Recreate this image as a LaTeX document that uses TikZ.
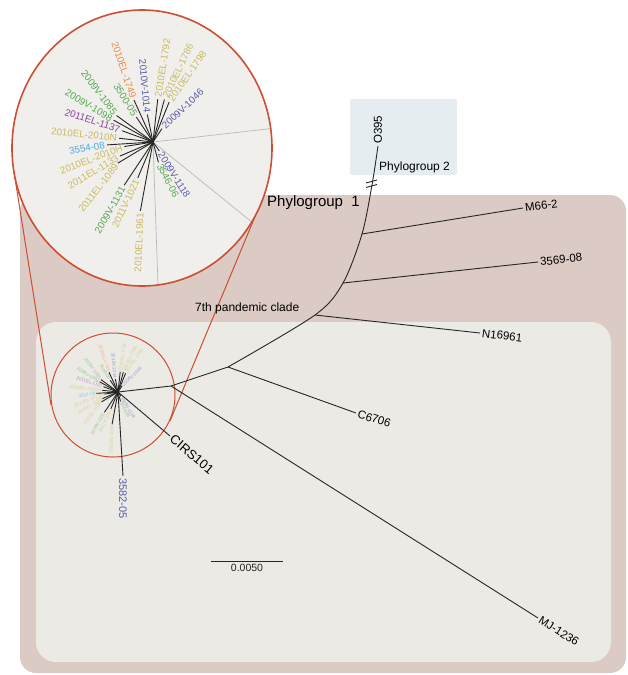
\documentclass[tikz,border=0pt]{standalone}
\usepackage{fontspec}
\setmainfont{Liberation Sans}
\usetikzlibrary{calc}

\definecolor{grouponebg}{RGB}{220,202,196}
\definecolor{pandemicbg}{RGB}{236,234,229}
\definecolor{grouptwobg}{RGB}{229,237,240}
\definecolor{zoombg}{RGB}{241,239,236}
\definecolor{zoomred}{RGB}{204,78,52}
\definecolor{labkhaki}{RGB}{201,186,96}
\definecolor{labgreen}{RGB}{82,168,84}
\definecolor{labblue}{RGB}{88,92,172}
\definecolor{labpurple}{RGB}{138,64,160}
\definecolor{laborange}{RGB}{240,138,62}
\definecolor{labcyan}{RGB}{72,170,226}

\tikzset{
  branch/.style={line width=0.9pt, black!85},
  leaflabel/.style={font=\fontsize{9.8}{12}\selectfont, inner sep=2pt},
  tiplabel/.style={font=\fontsize{11.5}{13}\selectfont, inner sep=2pt},
  zoomline/.style={draw=zoomred, line width=1pt},
}

% leaves of the 7th pandemic clade, drawn round the origin
\newcommand{\drawclade}[1]{%
  \foreach \ang/\len/\rot/\txt/\col [count=\n] in {114.4/46/-71.6/2010EL-1749/laborange,
      101.7/28/-84.9/2010V-1014/labblue, 123.7/30/-58/3500-05/labgreen,
      144/45/-52.9/2009V-1085/labgreen, 151/45/-30.8/2009V-1098/labgreen,
      160/33/-18.4/2011EL-1137/labpurple, 173.7/34/-6/2010EL-2010N/labkhaki,
      183.6/46/9.5/3554-08/labcyan, 189/29/21/2010EL-2010H/labkhaki,
      203/36/31/2011EL-1133/labkhaki, 211/41/52/2011EL-1089/labkhaki,
      236.3/52/60.5/2009V-1131/labgreen, 247/39/65/2011V-1021/labkhaki,
      259.6/70/87.5/2010EL-1961/labkhaki}
    \draw[branch] (0,0) -- (\ang:\len) node[leaflabel, anchor=east, rotate=\rot, text=\col] (#1l\n) {\txt};
  \foreach \ang/\len/\rot/\txt/\col [count=\n] in {305/11/-58/2009V-1118/labblue,
      285/21/-62.2/3546-06/labgreen, 56.3/16/43.6/2009V-1046/labblue,
      83.7/43/81.1/2010EL-1792/labkhaki, 75/44/64.6/2010EL-1786/labkhaki,
      68/43/54.9/2010EL-1798/labkhaki}
    \draw[branch] (0,0) -- (\ang:\len) node[leaflabel, anchor=west, rotate=\rot, text=\col] (#1r\n) {\txt};
}

\begin{document}
\begin{tikzpicture}[x=1pt, y=1pt]
\useasboundingbox (0,0) rectangle (627,-675);

% group boxes
\fill[grouponebg, rounded corners=16pt] (20,-195) rectangle (626,-673);
\fill[pandemicbg, rounded corners=20pt] (36,-322) rectangle (611,-662);
\fill[grouptwobg, rounded corners=2pt] (350,-99) rectangle (457,-175);

% magnifier
\coordinate (bigL) at (14,-172);
\coordinate (bigR) at (259,-207);
\coordinate (smallL) at (51,-405);
\coordinate (smallR) at (170,-421);
\draw[zoomline] (bigL) -- (smallL);
\draw[zoomline] (bigR) -- (smallR);
\draw[zoomline] (113,-395) circle [radius=62];
\fill[zoombg] (142,-148) ellipse [x radius=130, y radius=138];
\begin{scope}
  \clip (142,-148) ellipse [x radius=130, y radius=138];
  \draw[gray!55, line width=0.7pt] (153,-142) -- +(6.5:200);
  \draw[gray!55, line width=0.7pt] (153,-142) -- +(-39:200);
  \draw[gray!55, line width=0.7pt] (153,-142) -- +(-88:200);
\end{scope}
\draw[zoomline, line width=1.6pt] (142,-148) ellipse [x radius=130, y radius=138];

\begin{scope}[shift={(153,-142)}]
  \drawclade{big}
\end{scope}
\begin{scope}[shift={(118,-392)}, scale=0.47, transform shape, leaflabel/.append style={text opacity=0.55}]
  \drawclade{small}
\end{scope}

% main tree
\coordinate (hub) at (118,-392);
\coordinate (nB) at (171,-386);
\coordinate (nA) at (228,-367);
\coordinate (nD) at (315,-315);
\coordinate (nE) at (343,-283);
\coordinate (nF) at (362,-234);
\coordinate (cut) at (372,-185);
\coordinate (tO) at (378,-146);
\coordinate (tM) at (523,-208);
\coordinate (tS) at (538,-262);
\coordinate (tN) at (480,-333);
\coordinate (tC) at (356,-413);
\coordinate (tMJ) at (538,-618);
\coordinate (tCI) at (170,-436);
\coordinate (tV) at (123,-476);

\draw[branch] (hub) -- (nB) -- (nA);
\draw[branch] plot[smooth, tension=0.5] coordinates {(nA) (nD) (nE) (nF) (cut) (tO)};
\draw[branch] (nF) -- (tM);
\draw[branch] (nE) -- (tS);
\draw[branch] (nD) -- (tN);
\draw[branch] (nA) -- (tC);
\draw[branch] (nB) -- (tMJ);
\draw[branch] (hub) -- (tCI);
\draw[branch] (hub) -- (tV);
\draw[branch] (366,-183) -- (377,-180);
\draw[branch] (366,-187.5) -- (377,-184.5);

\node[tiplabel, anchor=west, rotate=90] (lO) at (tO) {O395};
\node[tiplabel, anchor=west, rotate=7] (lM) at (tM) {M66-2};
\node[tiplabel, anchor=west, rotate=6] (lS) at (tS) {3569-08};
\node[tiplabel, anchor=west, rotate=-7] (lN) at (tN) {N16961};
\node[tiplabel, anchor=west, rotate=-18] (lC) at (tC) {C6706};
\node[tiplabel, anchor=west, rotate=-32] (lMJ) at (tMJ) {MJ-1236};
\node[tiplabel, anchor=west, rotate=-40, font=\fontsize{13}{15}\selectfont] (lCI) at (tCI) {CIRS101};
\node[tiplabel, anchor=west, rotate=-90, text=labblue, font=\fontsize{11}{13}\selectfont] (lV) at (tV) {3582-05};

% group names
\node[anchor=west, inner sep=0pt, font=\fontsize{15}{17}\selectfont] (grpone) at (267,-203) {Phylogroup\ \ 1};
\node[anchor=west, inner sep=0pt, font=\fontsize{12}{14}\selectfont] (grptwo) at (379,-167) {Phylogroup 2};
\node[anchor=west, inner sep=0pt, font=\fontsize{12}{14}\selectfont] (clade) at (195,-308) {7th pandemic clade};

% scale bar
\coordinate (barL) at (211,-561);
\coordinate (barR) at (283,-561);
\draw[branch] (barL) -- (barR) node[midway, below=2pt, inner sep=1pt, font=\fontsize{10.5}{12}\selectfont] (barlab) {0.0050};
\end{tikzpicture}
\end{document}
